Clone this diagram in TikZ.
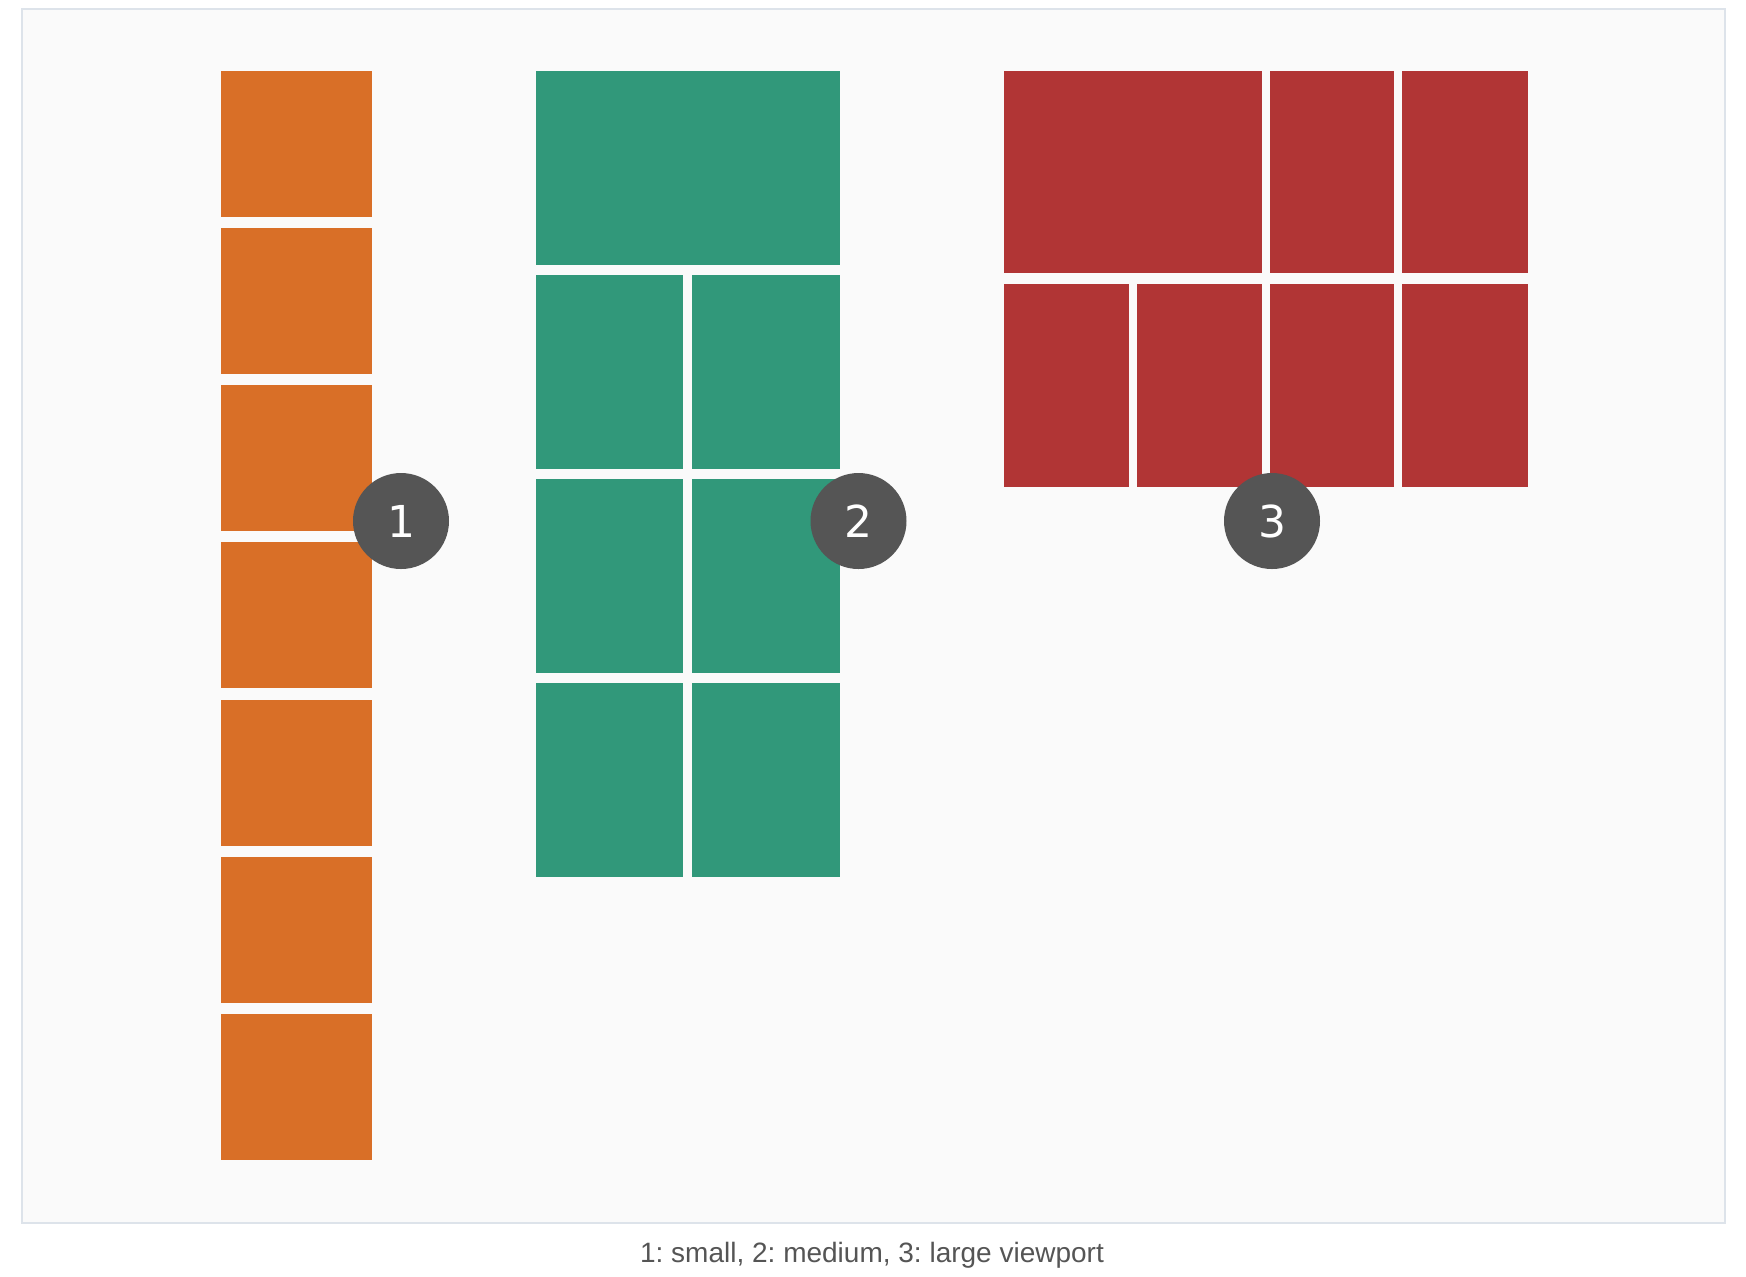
\documentclass[tikz,border=0pt]{standalone}
\usepackage{fontspec}
\setmainfont{Liberation Sans}
\newfontfamily\numfont{DejaVu Sans}
\definecolor{bgc}{HTML}{FAFAFA}
\definecolor{framec}{HTML}{DDE3EA}
\definecolor{orangec}{HTML}{D96F27}
\definecolor{greenc}{HTML}{31987A}
\definecolor{redc}{HTML}{B13535}
\definecolor{badgec}{HTML}{555555}
\definecolor{textc}{HTML}{555555}
\tikzset{
  badge/.style={circle, fill=badgec, draw=none, minimum size=48pt, inner sep=0pt, text=white, font=\numfont\fontsize{22}{22}\selectfont},
  caption/.style={text=textc, font=\fontsize{14}{16}\selectfont\frenchspacing, inner sep=0pt}
}
\begin{document}
\begin{tikzpicture}[x=0.5pt, y=-0.5pt]
\useasboundingbox (0,0) rectangle (1746,1276);
\fill[white] (0,0) rectangle (1746,1276);
\filldraw[fill=bgc, draw=framec, line width=1.2pt] (22,9) rectangle (1725,1223);
% orange column
\foreach \i in {0,...,6} {
  \fill[orangec] (220.5,{70.5+\i*157.3}) rectangle (371.5,{216.5+\i*157.3});
}
% green column
\fill[greenc] (536,70.5) rectangle (840,265);
\foreach \t/\b in {275/469, 479/673, 683/877} {
  \fill[greenc] (536,\t) rectangle (683,\b);
  \fill[greenc] (691.5,\t) rectangle (840,\b);
}
% red grid
\fill[redc] (1003.5,70.5) rectangle (1262,273);
\fill[redc] (1269.5,70.5) rectangle (1394,273);
\fill[redc] (1402,70.5) rectangle (1528,273);
\fill[redc] (1003.5,284) rectangle (1129,487);
\fill[redc] (1137,284) rectangle (1262,487);
\fill[redc] (1269.5,284) rectangle (1394,487);
\fill[redc] (1402,284) rectangle (1528,487);
% badges
\node[badge] (b1) at (401,521) {1};
\node[badge] (b2) at (858.5,521) {2};
\node[badge] (b3) at (1272,521) {3};
% caption
\node[caption] (cap) at (872,1255) {1: small, 2: medium, 3: large viewport};
\end{tikzpicture}
\end{document}
